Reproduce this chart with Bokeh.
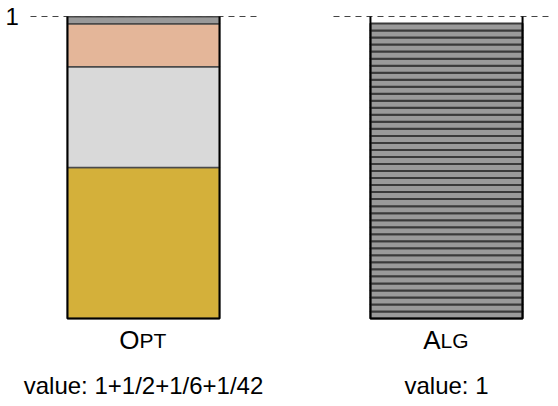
from bokeh.plotting import figure
from bokeh.models import Range1d, ColumnDataSource
from bokeh.core.properties import value
from bokeh.embed import file_html
from bokeh.resources import INLINE

# --- data ---
bins = ["OPT", "ALG"]
bin_x = [0, 1]
opt_sizes = [1/2, 1/3, 1/7, 1/43]
opt_colors = ["#D4B03A", "#D9D9D9", "#E4B699", "#999999"]
alg_sizes = [1/43] * 42
alg_color = "#9A9A9A"
label_big = ["O", "A"]
label_small = ["PT", "LG"]
value_labels = ["value: 1+1/2+1/6+1/42", "value: 1"]
cap_label = "1"

BW = 0.502  # bar width in x units
FONT = value("Liberation Sans")

p = figure(width=550, height=398, x_range=Range1d(-0.47195, 1.34323),
           y_range=Range1d(-0.26490, 1.05298), output_backend="svg",
           toolbar_location=None, min_border=0, x_axis_type=None, y_axis_type=None)
p.grid.visible = False
p.outline_line_color = None

# OPT stack
bottoms, tops = [], []
acc = 0.0
for s in opt_sizes:
    bottoms.append(acc)
    acc += s
    tops.append(acc)
src_opt = ColumnDataSource(dict(left=[bin_x[0] - BW/2]*len(opt_sizes),
                                right=[bin_x[0] + BW/2]*len(opt_sizes),
                                bottom=bottoms, top=tops, color=opt_colors))
p.quad(left="left", right="right", bottom="bottom", top="top", fill_color="color",
       line_color="#4a4a4a", line_width=1.5, source=src_opt)

# ALG stack
ab, at = [], []
acc = 0.0
for s in alg_sizes:
    ab.append(acc)
    acc += s
    at.append(acc)
src_alg = ColumnDataSource(dict(left=[bin_x[1] - BW/2]*len(alg_sizes),
                                right=[bin_x[1] + BW/2]*len(alg_sizes),
                                bottom=ab, top=at))
p.quad(left="left", right="right", bottom="bottom", top="top", fill_color=alg_color,
       line_color="#3a3a3a", line_width=2, source=src_alg)

# bin outlines and capacity lines
for c in bin_x:
    p.line([c - 0.373, c + 0.385], [1, 1], line_color="#444444", line_width=1.2,
           line_dash="6 5")
    p.line([c - BW/2, c - BW/2, c + BW/2, c + BW/2], [1, 0, 0, 1],
           line_color="black", line_width=2)

# capacity label
p.text(x=[-0.47195], y=[1], text=[cap_label], text_font=FONT, text_font_size="24px",
       text_align="left", text_baseline="middle", x_offset=5, text_color="black")

# bin labels (small caps imitation)
p.text(x=bin_x, y=[-0.0728]*2, text=label_big, text_font=FONT, text_font_size="26px",
       text_align="right", text_baseline="alphabetic", x_offset=[-4, -6], text_color="black")
p.text(x=bin_x, y=[-0.0728]*2, text=label_small, text_font=FONT, text_font_size="21px",
       text_align="left", text_baseline="alphabetic", x_offset=[-4, -6], text_color="black")

# value labels
p.text(x=bin_x, y=[-0.2219]*2, text=value_labels, text_font=FONT, text_font_size="24px",
       text_align="center", text_baseline="alphabetic", text_color="black")

open("out.html", "w").write(file_html(p, INLINE))
